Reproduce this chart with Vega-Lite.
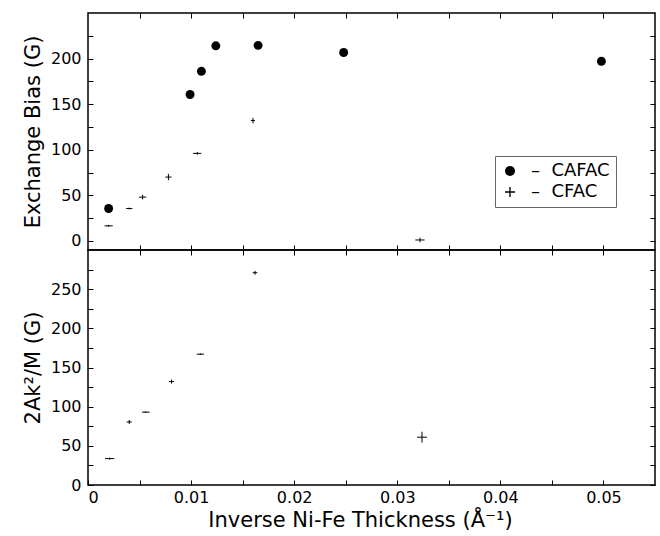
{
  "$schema": "https://vega.github.io/schema/vega-lite/v6.json",
  "padding": {"left": 21, "top": 11, "right": 4, "bottom": 0},
  "spacing": 0,
  "bounds": "flush",
  "datasets": {
    "cafac": [
      {"x": 0.0020, "y": 35.5, "series": "CAFAC"},
      {"x": 0.0099, "y": 160.6, "series": "CAFAC"},
      {"x": 0.0110, "y": 186, "series": "CAFAC"},
      {"x": 0.0124, "y": 214, "series": "CAFAC"},
      {"x": 0.0165, "y": 214.5, "series": "CAFAC"},
      {"x": 0.0248, "y": 206.7, "series": "CAFAC"},
      {"x": 0.0498, "y": 197, "series": "CAFAC"}
    ],
    "cfac_top": [
      {"x": 0.0020, "y": 16.5, "xlo": 0.0016, "xhi": 0.0024, "ylo": 15.5, "yhi": 17.5},
      {"x": 0.0040, "y": 35.5, "xlo": 0.0037, "xhi": 0.0043, "ylo": 34.5, "yhi": 36.5},
      {"x": 0.0053, "y": 48, "xlo": 0.00495, "xhi": 0.00565, "ylo": 45.5, "yhi": 50.5},
      {"x": 0.0078, "y": 70, "xlo": 0.0075, "xhi": 0.0081, "ylo": 66.5, "yhi": 73.5},
      {"x": 0.0106, "y": 96, "xlo": 0.0102, "xhi": 0.0110, "ylo": 94.5, "yhi": 97.5},
      {"x": 0.0160, "y": 132, "xlo": 0.0158, "xhi": 0.0162, "ylo": 129, "yhi": 135},
      {"x": 0.0322, "y": 1, "xlo": 0.03175, "xhi": 0.03265, "ylo": -1.5, "yhi": 3.5}
    ],
    "cfac_bot": [
      {"x": 0.0021, "y": 33.7, "xlo": 0.00165, "xhi": 0.00255, "ylo": 32.5, "yhi": 35},
      {"x": 0.0040, "y": 80.4, "xlo": 0.00375, "xhi": 0.00425, "ylo": 78, "yhi": 83},
      {"x": 0.0056, "y": 93, "xlo": 0.00523, "xhi": 0.00597, "ylo": 92, "yhi": 94},
      {"x": 0.0081, "y": 132, "xlo": 0.00785, "xhi": 0.00835, "ylo": 129.5, "yhi": 134.5},
      {"x": 0.0109, "y": 167, "xlo": 0.01055, "xhi": 0.01125, "ylo": 166, "yhi": 168},
      {"x": 0.0162, "y": 271, "xlo": 0.01598, "xhi": 0.01642, "ylo": 268.5, "yhi": 273.5},
      {"x": 0.0324, "y": 61, "xlo": 0.03192, "xhi": 0.03288, "ylo": 54, "yhi": 68}
    ]
  },
  "config": {
    "view": {"stroke": "black", "strokeWidth": 1.5},
    "font": "DejaVu Sans",
    "axis": {
      "domain": false, "grid": false, "tickColor": "black", "tickWidth": 1, "tickSize": -5,
      "labelColor": "black", "titleColor": "black", "labelFont": "DejaVu Sans", "titleFont": "DejaVu Sans",
      "titleFontWeight": "normal", "labelFontSize": 16, "titleFontSize": 21, "labelPadding": 12
    }
  },
  "vconcat": [
    {
      "width": 567,
      "height": 237,
      "layer": [
        {
          "data": {"name": "cafac"},
          "mark": {"type": "point", "filled": true, "color": "black", "size": 80, "opacity": 1},
          "encoding": {
            "x": {"field": "x", "type": "quantitative", "scale": {"domain": [0, 0.055], "nice": false, "zero": false},
                  "axis": {"orient": "bottom", "values": [0.005, 0.01, 0.015, 0.02, 0.025, 0.03, 0.035, 0.04, 0.045, 0.05], "labels": false, "title": null, "minExtent": 0, "maxExtent": 0}},
            "y": {"field": "y", "type": "quantitative", "scale": {"domain": [-10, 250], "nice": false, "zero": false},
                  "axis": {"orient": "left", "values": [0, 25, 50, 75, 100, 125, 150, 175, 200, 225], "labelExpr": "datum.value % 50 === 0 ? datum.label : ''", "title": "Exchange Bias (G)", "titlePadding": 7}},
            "shape": {"field": "series", "type": "nominal",
                      "scale": {"domain": ["CAFAC", "CFAC"], "range": ["circle", "M-1,-0.13H1V0.13H-1ZM-0.13,-1H0.13V1H-0.13Z"]},
                      "legend": {"title": null, "orient": "none", "legendX": 407, "legendY": 143,
                                 "labelExpr": "'–\u00a0\u00a0' + datum.label", "strokeColor": "#666", "padding": 6,
                                 "labelFontSize": 18, "labelFont": "DejaVu Sans", "labelColor": "black",
                                 "symbolSize": 100, "symbolFillColor": "black", "symbolStrokeWidth": 0, "rowPadding": 3, "labelOffset": 12}}
          }
        },
        {
          "data": {"name": "cfac_top"},
          "mark": {"type": "rule", "color": "black", "strokeWidth": 1},
          "encoding": {
            "x": {"field": "xlo", "type": "quantitative",
                  "axis": {"orient": "top", "values": [0.005, 0.01, 0.015, 0.02, 0.025, 0.03, 0.035, 0.04, 0.045, 0.05], "labels": false, "title": null, "minExtent": 0, "maxExtent": 0}},
            "x2": {"field": "xhi"},
            "y": {"field": "y", "type": "quantitative",
                  "axis": {"orient": "right", "values": [0, 25, 50, 75, 100, 125, 150, 175, 200, 225], "labels": false, "title": null, "minExtent": 0, "maxExtent": 0}}
          }
        },
        {
          "data": {"name": "cfac_top"},
          "mark": {"type": "rule", "color": "black", "strokeWidth": 1},
          "encoding": {
            "x": {"field": "x", "type": "quantitative", "axis": null},
            "y": {"field": "ylo", "type": "quantitative", "axis": null},
            "y2": {"field": "yhi"}
          }
        }
      ],
      "resolve": {"axis": {"x": "independent", "y": "independent"}}
    },
    {
      "width": 567,
      "height": 235,
      "layer": [
        {
          "data": {"name": "cfac_bot"},
          "mark": {"type": "rule", "color": "black", "strokeWidth": 1},
          "encoding": {
            "x": {"field": "xlo", "type": "quantitative", "scale": {"domain": [0, 0.055], "nice": false, "zero": false},
                  "axis": {"orient": "bottom", "values": [0, 0.005, 0.01, 0.015, 0.02, 0.025, 0.03, 0.035, 0.04, 0.045, 0.05],
                           "labelExpr": "round(datum.value * 1000) % 10 === 0 ? (datum.value === 0 ? '0' : format(datum.value, '.2f')) : ''",
                           "labelFontSize": 16, "labelPadding": 9, "title": "Inverse Ni-Fe Thickness (Å⁻¹)", "titleFontSize": 21, "titlePadding": 4, "titleX": 272}},
            "x2": {"field": "xhi"},
            "y": {"field": "y", "type": "quantitative", "scale": {"domain": [0, 300], "nice": false, "zero": false},
                  "axis": {"orient": "left", "values": [0, 25, 50, 75, 100, 125, 150, 175, 200, 225, 250, 275], "labelExpr": "datum.value % 50 === 0 ? datum.label : ''", "title": "2Ak²/M (G)", "titlePadding": 7}}
          }
        },
        {
          "data": {"name": "cfac_bot"},
          "mark": {"type": "rule", "color": "black", "strokeWidth": 1},
          "encoding": {
            "x": {"field": "x", "type": "quantitative",
                  "axis": {"orient": "top", "values": [0.005, 0.01, 0.015, 0.02, 0.025, 0.03, 0.035, 0.04, 0.045, 0.05], "labels": false, "title": null, "minExtent": 0, "maxExtent": 0}},
            "y": {"field": "ylo", "type": "quantitative",
                  "axis": {"orient": "right", "values": [0, 25, 50, 75, 100, 125, 150, 175, 200, 225, 250, 275], "labels": false, "title": null, "minExtent": 0, "maxExtent": 0}},
            "y2": {"field": "yhi"}
          }
        }
      ],
      "resolve": {"axis": {"x": "independent", "y": "independent"}}
    }
  ]
}
